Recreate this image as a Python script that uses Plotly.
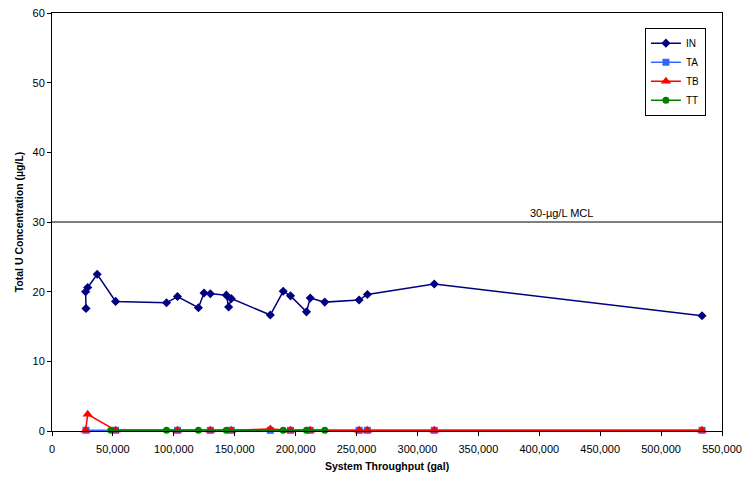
import plotly.graph_objects as go

# IN series
in_x = [27900, 27600, 29300, 37100, 52200, 94000, 103000, 120200, 124800, 130000,
        143100, 145000, 147200, 179200, 189800, 195800, 208900, 212000, 223900,
        252100, 258900, 313800, 533600]
in_y = [17.6, 20.0, 20.6, 22.5, 18.6, 18.4, 19.3, 17.7, 19.8, 19.7,
        19.5, 17.8, 19.0, 16.65, 20.05, 19.4, 17.1, 19.1, 18.5,
        18.8, 19.6, 21.1, 16.55]

# TA series
ta_x = [27900, 52200, 103000, 130000, 147200, 179200, 195800, 212000, 252100, 258900, 313800, 533600]
ta_y = [0.1, 0.1, 0.1, 0.1, 0.1, 0.1, 0.1, 0.1, 0.1, 0.1, 0.1, 0.1]

# TB series
tb_x = [27600, 29300, 52200, 103000, 130000, 147200, 179200, 195800, 212000, 252100, 258900, 313800, 533600]
tb_y = [0.1, 2.4, 0.1, 0.1, 0.1, 0.1, 0.3, 0.1, 0.1, 0.1, 0.1, 0.1, 0.1]

# TT series
tt_x = [48300, 94000, 120200, 143100, 189800, 208900, 223900]
tt_y = [0.1, 0.1, 0.1, 0.1, 0.1, 0.1, 0.1]

mcl_value = 30
mcl_label = "30-µg/L MCL"

x_ticks = list(range(0, 550001, 50000))
y_ticks = list(range(0, 61, 10))

fig = go.Figure()
fig.add_trace(go.Scatter(x=in_x, y=in_y, name="IN", mode="lines+markers", cliponaxis=False,
                         line=dict(color="#000080", width=1.5),
                         marker=dict(symbol="diamond", size=7, color="#000080")))
fig.add_trace(go.Scatter(x=ta_x, y=ta_y, name="TA", mode="lines+markers", cliponaxis=False,
                         line=dict(color="#3366FF", width=1.5),
                         marker=dict(symbol="square", size=7, color="#3366FF")))
fig.add_trace(go.Scatter(x=tb_x, y=tb_y, name="TB", mode="lines+markers", cliponaxis=False,
                         line=dict(color="#FF0000", width=1.5),
                         marker=dict(symbol="triangle-up", size=9, color="#FF0000")))
fig.add_trace(go.Scatter(x=tt_x, y=tt_y, name="TT", mode="lines+markers", cliponaxis=False,
                         line=dict(color="#008000", width=1.5),
                         marker=dict(symbol="circle", size=7, color="#008000")))

fig.add_shape(type="line", xref="paper", x0=0, x1=1, yref="y", y0=mcl_value, y1=mcl_value,
              line=dict(color="black", width=1.2))
fig.add_annotation(x=418000, y=mcl_value, text=mcl_label, showarrow=False,
                   yanchor="bottom", yshift=1, font=dict(size=11, color="black"))

axis_common = dict(showgrid=False, zeroline=False, showline=True, linecolor="black",
                   linewidth=1, mirror=True, ticks="outside", ticklen=4,
                   tickcolor="black", tickfont=dict(size=11, color="black"),
                   automargin=False)

fig.update_xaxes(range=[0, 550000], tickvals=x_ticks, tickformat=",", ticklabelstandoff=4,
                 title=dict(text="<b>System Throughput (gal)</b>", font=dict(size=10.5, color="black"), standoff=8),
                 **axis_common)
fig.update_yaxes(range=[0, 60], tickvals=y_ticks,
                 title=dict(text="<b>Total U Concentration (µg/L)</b>", font=dict(size=10.5, color="black"), standoff=6),
                 **axis_common)

fig.update_layout(
    width=747, height=482,
    margin=dict(l=52, r=25, t=13, b=51),
    paper_bgcolor="white", plot_bgcolor="white",
    font=dict(family="Liberation Sans, Arial, sans-serif", size=11, color="black"),
    legend=dict(x=0.976, y=0.965, xanchor="right", yanchor="top",
                bordercolor="black", borderwidth=1, bgcolor="white",
                font=dict(size=10), tracegroupgap=0, itemwidth=30),
    showlegend=True,
)

fig.write_html("out.html")
